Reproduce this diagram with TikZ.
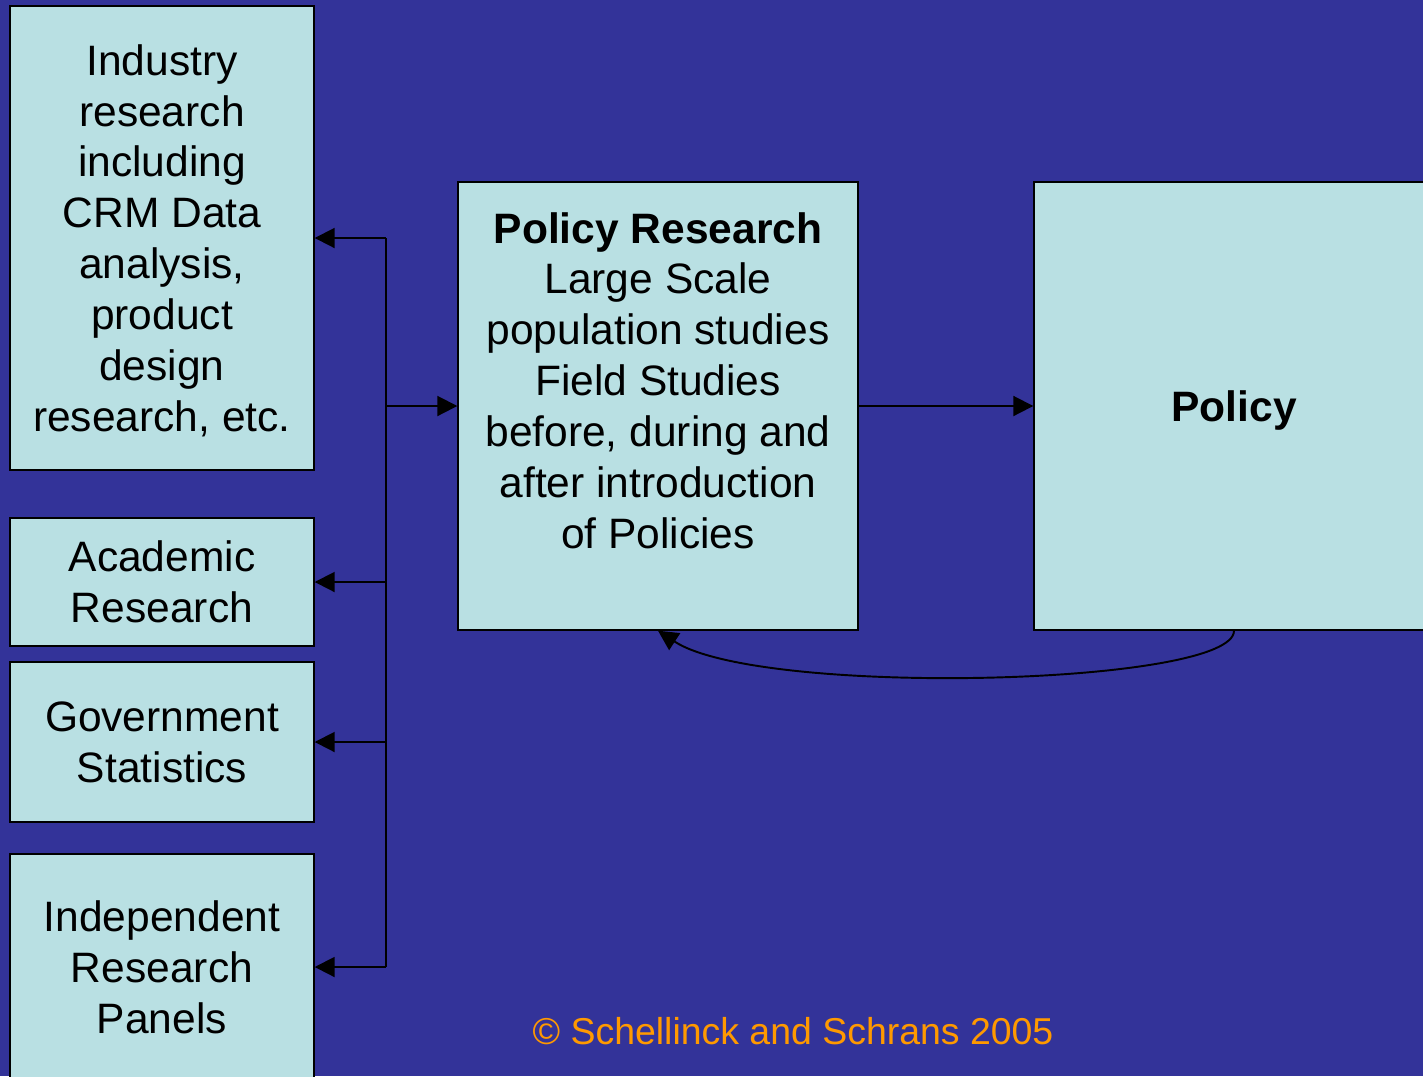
\documentclass[tikz,border=0pt]{standalone}
\usepackage{fontspec}
\setmainfont{Liberation Sans}
\usetikzlibrary{arrows.meta,positioning,calc}
\definecolor{slideblue}{HTML}{333399}
\definecolor{boxfill}{RGB}{185,224,227}
\definecolor{noteorange}{HTML}{FF9900}

\begin{document}
\begin{tikzpicture}[
			srcbox/.style={rectangle,draw=black,line width=0.8pt,fill=boxfill,
				minimum width=6.08cm,align=center,inner sep=0pt,
				font=\fontsize{24.2}{29}\selectfont},
			bigbox/.style={srcbox,minimum width=8cm,minimum height=8.96cm},
			link/.style={line width=1.1pt,-{Triangle[length=0.4cm,width=0.4cm]}}
		]

		\useasboundingbox[fill=slideblue] (0,0) rectangle (28.46,-21.52);

		\node[srcbox,minimum height=9.28cm,text depth=0pt] (industry) at (3.24,-4.76)
			{Industry\\research\\including\\CRM Data\\analysis,\\product\\design\\research, etc.};
		\node[srcbox,minimum height=2.56cm] (academic) at (3.24,-11.64)
			{Academic\\Research};
		\node[srcbox,minimum height=3.2cm] (govstats) at (3.24,-14.84)
			{Government\\Statistics};
		\node[srcbox,minimum height=4.52cm] (panels) at (3.24,-19.34)
			{Independent\\Research\\Panels};

		\node[bigbox] (polres) at (13.16,-8.12)
			{\textbf{Policy Research}\\Large Scale\\population studies\\Field Studies\\before, during and\\after introduction\\of Policies\rule[-1.02cm]{0pt}{0pt}};
		\node[bigbox,text depth=0pt] (policy) at (24.68,-8.12) {\textbf{Policy}};

		\coordinate (bus) at (7.72,0);

		\draw[line width=1.1pt] (industry.east -| bus) -- (panels.east -| bus);
		\draw[link] (industry.east -| bus) -- (industry.east);
		\draw[link] (academic.east -| bus) -- (academic.east);
		\draw[link] (govstats.east -| bus) -- (govstats.east);
		\draw[link] (panels.east -| bus) -- (panels.east);
		\draw[link] (polres.west -| bus) -- (polres.west);

		\draw[link] (polres.east) -- (policy.west);
		\draw[link] (policy.south) .. controls ($(policy.south)+(0,-1.1)$) and (15.2,-13.95) .. (polres.south);

		\node[text=noteorange,font=\fontsize{21.3}{26}\selectfont] (note) at (15.86,-20.62)
			{© Schellinck and Schrans 2005};

	\end{tikzpicture}
\end{document}
